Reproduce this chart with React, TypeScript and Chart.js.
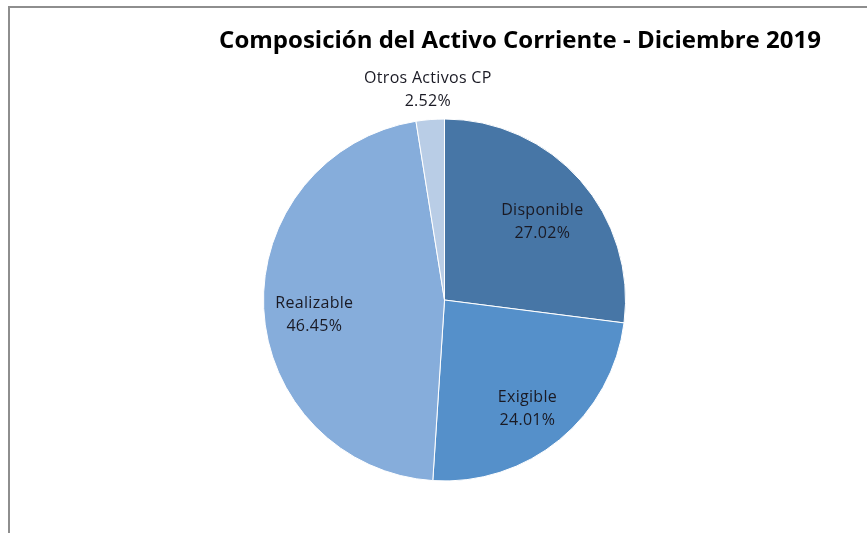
import React, { useEffect, useRef } from "react";
import { Chart, registerables } from "chart.js";

Chart.register(...registerables);

const chartTitle = "Composición del Activo Corriente - Diciembre 2019";
const categories = ["Disponible", "Exigible", "Realizable", "Otros Activos CP"];
const shares = [27.02, 24.01, 46.45, 2.52];
const sliceColors = ["#4776A6", "#5590CA", "#86ADDB", "#B9CDE6"];

const labelPlugin = {
  id: "sliceLabels",
  afterDatasetsDraw(chart: any) {
    const ctx = chart.ctx;
    const meta = chart.getDatasetMeta(0);
    ctx.save();
    ctx.font = "16px 'Open Sans'";
    (ctx as any).letterSpacing = "0.3px";
    ctx.fillStyle = "#1A1A24";
    ctx.textAlign = "center";
    ctx.textBaseline = "middle";
    meta.data.forEach((arc: any, i: number) => {
      const { x, y, startAngle, endAngle, outerRadius } = arc.getProps(
        ["x", "y", "startAngle", "endAngle", "outerRadius"],
        true
      );
      const mid = (startAngle + endAngle) / 2;
      const share = shares[i];
      const outside = share < 5;
      const r = outside ? outerRadius + 30 : outerRadius * 0.72;
      const cx = x + Math.cos(mid) * r;
      const cy = y + Math.sin(mid) * r + (outside ? 0 : 8);
      ctx.fillText(categories[i], cx, cy - 11);
      ctx.fillText(share.toFixed(2) + "%", cx, cy + 12);
    });
    // title
    (ctx as any).letterSpacing = "0px";
    ctx.font = "bold 24px 'Open Sans'";
    ctx.fillStyle = "#000000";
    ctx.fillText(chartTitle, 510, 33);
    ctx.restore();
  },
};

export default function App() {
  const ref = useRef<HTMLCanvasElement>(null);
  useEffect(() => {
    if (!ref.current) return;
    const chart = new Chart(ref.current, {
      type: "pie",
      data: {
        labels: categories,
        datasets: [
          {
            data: shares,
            backgroundColor: sliceColors,
            borderColor: "#FFFFFF",
            borderWidth: 1,
          },
        ],
      },
      options: {
        responsive: false,
        animation: false,
        layout: { padding: { left: 253, right: 241, top: 109, bottom: 50 } },
        plugins: {
          legend: { display: false },
          title: { display: false },
          tooltip: { enabled: false },
        },
      },
      plugins: [labelPlugin],
    });
    return () => chart.destroy();
  }, []);
  return (
    <div
      style={{
        position: "absolute",
        left: 8,
        top: 6,
        width: 870,
        height: 540,
        borderTop: "2px solid #8E8E8E",
        borderLeft: "2px solid #8E8E8E",
        background: "#FFFFFF",
        overflow: "hidden",
      }}
    >
      <canvas
        ref={ref}
        width={857}
        height={525}
        style={{ position: "absolute", left: 0, top: 0 }}
      />
    </div>
  );
}
